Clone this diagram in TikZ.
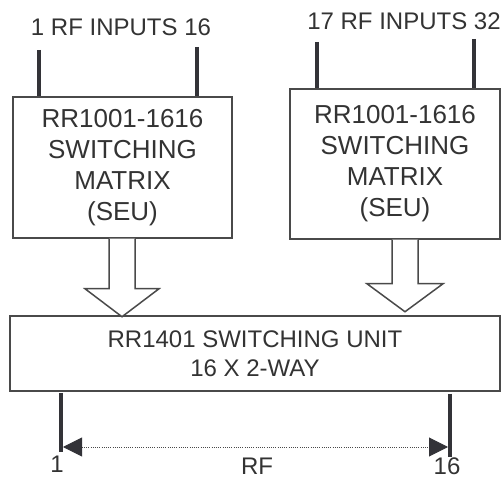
\documentclass[tikz,border=0pt]{standalone}
\usepackage{fontspec}
\setmainfont{Liberation Sans}
\usetikzlibrary{arrows.meta, calc}
\definecolor{edgegray}{HTML}{4a4a4a}
\definecolor{bargray}{HTML}{333338}
\definecolor{inkgray}{HTML}{333333}
\tikzset{
    unit/.style={
        rectangle, draw=edgegray, line width=1.5pt, fill=white,
        inner sep=0pt, align=center, text=inkgray,
        font=\fontsize{26}{31}\selectfont
    },
    tag/.style={
        inner sep=0pt, text=inkgray, anchor=base,
        font=\fontsize{24}{29}\selectfont
    },
    rfbar/.style={
        line width=4pt, draw=bargray
    },
    blockarr/.style={
        draw=edgegray, line width=1.5pt, fill=white, line join=miter
    },
    span/.style={
        draw=edgegray, line width=1pt, dash pattern=on 1pt off 1.2pt,
        {Triangle[length=19pt, width=19pt, color=bargray]}-{Triangle[length=19pt, width=19pt, color=bargray]}
    }
}
\begin{document}
\begin{tikzpicture}[x=1pt, y=-1pt]
    \useasboundingbox (0,0) rectangle (501,478);

    % Boxes
    \node[unit, minimum width=219pt, minimum height=141pt] (sw1) at (122.5,167.5)
        {RR1001-1616\\SWITCHING\\MATRIX\\(SEU)};
    \node[unit, minimum width=210pt, minimum height=150pt] (sw2) at (395,164)
        {RR1001-1616\\SWITCHING\\MATRIX\\(SEU)};
    \node[unit, minimum width=490pt, minimum height=75pt, font=\fontsize{24}{29}\selectfont] (su) at (255,353.5)
        {RR1401 SWITCHING UNIT\\16 X 2-WAY};

    % Input labels and bars
    \node[tag] (t1) at (121,36) {1 RF INPUTS 16};
    \node[tag] (t2) at (404,30) {17 RF INPUTS 32};
    \coordinate (in1) at (39,50);
    \coordinate (in16) at (197,47);
    \coordinate (in17) at (317,42);
    \coordinate (in32) at (474,39);
    \draw[rfbar] (in1) -- (in1 |- sw1.north);
    \draw[rfbar] (in16) -- (in16 |- sw1.north);
    \draw[rfbar] (in17) -- (in17 |- sw2.north);
    \draw[rfbar] (in32) -- (in32 |- sw2.north);

    % Block arrows
    \draw[blockarr] ($(sw1.south)+(-13.5,0)$) -- ++(0,50) -- ++(-24,0) -- ++(37,28)
        -- ++(37,-28) -- ++(-24,0) -- ++(0,-50);
    \draw[blockarr] ($(sw2.south)+(-3,0)$) -- ++(0,44) -- ++(-25,0) -- ++(38,28)
        -- ++(38,-28) -- ++(-25,0) -- ++(0,-44);

    % Outputs
    \coordinate (out1) at (61,452);
    \coordinate (out16) at (450,457);
    \draw[rfbar] (out1 |- 0,393) -- (out1);
    \draw[rfbar] (out16 |- 0,394) -- (out16);
    \coordinate (s1) at (63,447);
    \coordinate (s16) at (448,447);
    \draw[span] (s1) -- (s16);
    \node[tag] (o1) at (57,472) {1};
    \node[tag] (orf) at (257,474) {RF};
    \node[tag] (o16) at (447,474) {16};

\end{tikzpicture}
\end{document}
